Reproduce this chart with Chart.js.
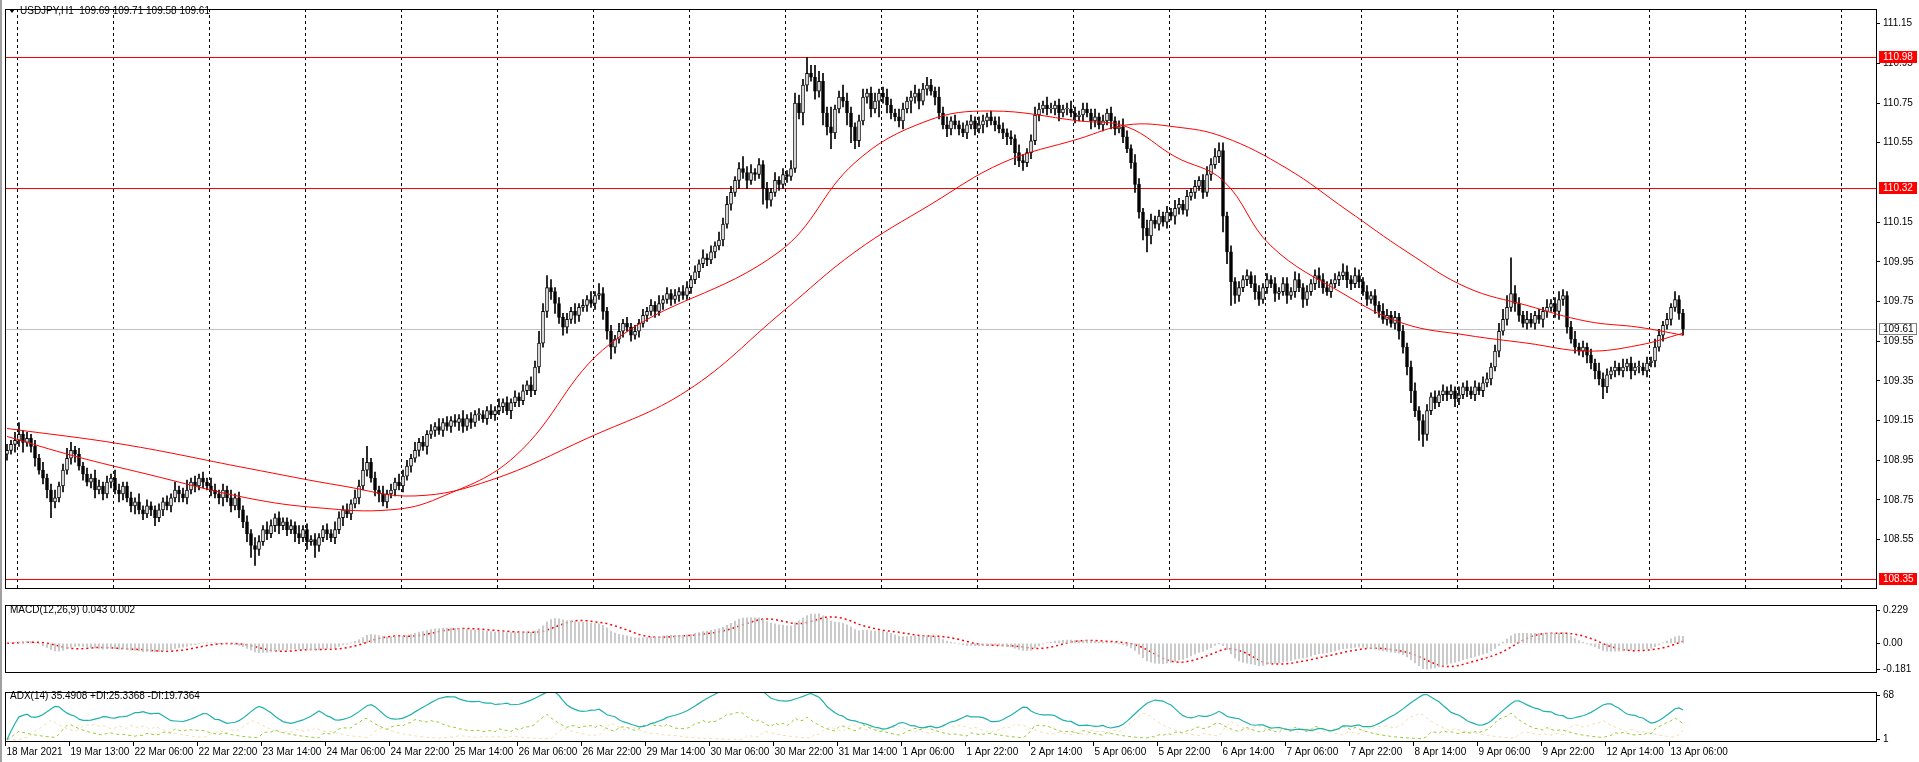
<!DOCTYPE html>
<html>
<head>
<meta charset="utf-8">
<script src="https://cdn.jsdelivr.net/npm/chart.js@4/dist/chart.umd.min.js"></script>
<style>
  html, body { margin: 0; padding: 0; background: #fff; }
  body { width: 1919px; height: 762px; position: relative; overflow: hidden; }
  canvas { position: absolute; left: 0; }
  #edge { position: absolute; left: 0; top: 0; width: 2px; height: 762px; background: #a0a0a0; }
</style>
</head>
<body>
<div id="edge"></div>
<canvas id="main" width="1919" height="598" style="top:0"></canvas>
<canvas id="macd" width="1919" height="86" style="top:596px"></canvas>
<canvas id="adx" width="1919" height="79" style="top:683px"></canvas>
<script>
// USDJPY H1 closes, one per bar (18 Mar 2021 .. 13 Apr 2021 06:00)
const closes = [
  109.00,109.03,109.05,109.08,109.04,109.06,109.02,108.96,108.90,108.86,
  108.80,108.74,108.76,108.82,108.90,108.96,109.00,108.98,108.92,108.88,
  108.84,108.86,108.80,108.82,108.78,108.84,108.86,108.80,108.78,108.82,
  108.76,108.72,108.74,108.70,108.68,108.72,108.70,108.66,108.70,108.74,
  108.72,108.76,108.80,108.78,108.76,108.80,108.84,108.82,108.86,108.84,
  108.82,108.80,108.78,108.76,108.80,108.76,108.72,108.76,108.70,108.64,
  108.58,108.52,108.50,108.54,108.60,108.58,108.62,108.66,108.62,108.64,
  108.60,108.62,108.58,108.56,108.60,108.54,108.55,108.52,108.56,108.60,
  108.58,108.56,108.60,108.66,108.70,108.68,108.73,108.76,108.82,108.90,
  108.94,108.86,108.80,108.78,108.74,108.78,108.80,108.84,108.82,108.87,
  108.92,108.96,109.00,109.04,109.02,109.08,109.10,109.12,109.10,109.14,
  109.12,109.15,109.14,109.16,109.12,109.16,109.14,109.18,109.18,109.16,
  109.20,109.18,109.20,109.22,109.24,109.20,109.24,109.27,109.25,109.30,
  109.33,109.30,109.42,109.54,109.70,109.82,109.80,109.74,109.67,109.62,
  109.66,109.70,109.68,109.72,109.73,109.76,109.74,109.78,109.79,109.70,
  109.60,109.52,109.56,109.60,109.64,109.62,109.58,109.60,109.64,109.68,
  109.70,109.73,109.70,109.74,109.76,109.79,109.76,109.78,109.80,109.78,
  109.82,109.86,109.90,109.94,109.97,109.96,110.00,110.03,110.06,110.14,
  110.24,110.30,110.36,110.42,110.40,110.36,110.40,110.39,110.44,110.32,
  110.26,110.30,110.36,110.34,110.39,110.38,110.42,110.75,110.70,110.84,
  110.90,110.88,110.81,110.86,110.70,110.63,110.60,110.72,110.78,110.76,
  110.70,110.63,110.56,110.66,110.78,110.80,110.72,110.76,110.80,110.78,
  110.74,110.70,110.68,110.66,110.72,110.76,110.78,110.80,110.76,110.82,
  110.84,110.81,110.78,110.70,110.64,110.62,110.66,110.64,110.62,110.60,
  110.64,110.66,110.62,110.64,110.66,110.68,110.66,110.64,110.62,110.60,
  110.58,110.57,110.50,110.46,110.45,110.50,110.56,110.69,110.72,110.74,
  110.72,110.72,110.74,110.70,110.72,110.72,110.70,110.68,110.69,110.72,
  110.70,110.66,110.68,110.64,110.66,110.70,110.66,110.62,110.63,110.58,
  110.52,110.45,110.34,110.20,110.12,110.08,110.16,110.14,110.18,110.15,
  110.20,110.18,110.22,110.24,110.21,110.28,110.30,110.33,110.36,110.30,
  110.39,110.44,110.48,110.51,110.18,110.00,109.85,109.78,109.82,109.86,
  109.88,109.84,109.80,109.76,109.82,109.86,109.84,109.79,109.80,109.84,
  109.78,109.80,109.86,109.82,109.76,109.80,109.84,109.88,109.86,109.82,
  109.80,109.84,109.86,109.88,109.90,109.86,109.84,109.88,109.85,109.80,
  109.76,109.78,109.73,109.70,109.66,109.68,109.64,109.67,109.60,109.52,
  109.42,109.30,109.20,109.15,109.08,109.20,109.27,109.24,109.28,109.30,
  109.28,109.30,109.26,109.28,109.32,109.30,109.28,109.32,109.30,109.34,
  109.36,109.42,109.50,109.60,109.66,109.72,109.79,109.74,109.68,109.64,
  109.66,109.64,109.68,109.66,109.70,109.72,109.74,109.70,109.76,109.78,
  109.62,109.56,109.52,109.50,109.52,109.48,109.44,109.40,109.36,109.32,
  109.38,109.40,109.42,109.40,109.42,109.44,109.40,109.42,109.42,109.40,
  109.44,109.45,109.52,109.58,109.63,109.66,109.72,109.76,109.69,109.61
];
const firstOpen = 108.98;
// upper / lower shadow length per bar, in 0.01 yen
const wickUp = [
  3,2,4,6,2,3,2,3,2,4, 2,3,4,2,3,5,4,2,3,2, 3,2,4,3,2,3,2,4,3,2, 2,3,2,4,2,3,2,2,3,2,
  3,2,4,2,3,5,2,3,2,3, 2,4,3,2,3,2,4,2,3,2, 3,2,4,3,2,4,3,2,3,2, 2,3,2,4,2,3,2,3,2,2,
  3,2,4,3,2,3,2,4,3,6, 8,2,3,2,4,2,3,2,4,3, 3,2,4,2,3,2,3,2,4,2, 3,2,3,2,4,2,3,2,3,2,
  2,3,2,4,2,3,2,3,2,3, 2,4,3,6,4,6,4,2,3,2, 3,2,4,2,3,2,4,2,5,3, 2,3,2,4,2,3,2,3,2,3,
  2,3,2,4,2,3,2,3,2,3, 3,2,3,2,4,2,3,2,4,3, 4,3,2,3,6,3,4,2,3,2, 3,2,4,2,3,2,4,5,4,3,
  8,4,6,5,4,3,10,2,3,6, 4,3,2,3,4,2,3,4,2,3, 4,3,2,4,3,2,3,4,2,3, 4,3,2,5,3,4,2,3,2,3,
  2,3,2,4,3,2,3,2,4,3, 2,3,2,4,3,2,3,4,3,2, 4,3,2,3,2,3,4,3,2,3, 3,2,4,2,3,2,3,2,3,4,
  3,2,4,3,2,4,3,2,3,2, 3,2,4,3,2,3,2,3,2,3, 4,3,4,4,4,2,3,2,3,2, 3,2,4,3,2,3,2,3,2,3,
  3,2,4,3,2,3,2,3,4,3, 3,2,3,2,4,3,2,4,3,2, 3,2,3,2,4,3,2,3,2,3, 2,3,4,2,3,3,2,3,2,3,
  2,3,2,4,2,3,2,3,2,3, 3,2,3,4,5,6,18,4,3,2, 4,3,2,3,2,4,2,3,4,3, 2,3,4,2,3,2,3,2,4,3,
  3,2,3,2,4,2,3,2,3,2, 3,2,4,3,2,3,2,4,2,2
];
const wickDn = [
  3,2,4,3,5,2,3,4,2,3, 4,8,3,2,3,2,3,4,2,3, 2,3,4,2,3,2,3,2,4,3, 2,3,4,2,3,2,3,4,2,3,
  2,3,2,4,2,3,2,3,2,3, 2,3,2,3,4,2,3,2,4,3, 4,6,8,3,2,3,2,3,4,2, 3,2,4,3,2,4,2,6,3,2,
  3,2,3,2,4,2,3,2,3,2, 3,2,3,4,2,3,2,3,2,3, 2,3,2,3,2,4,2,3,2,3, 2,3,2,4,3,2,3,2,3,2,
  3,2,3,2,3,2,4,2,3,2, 2,3,2,3,2,3,4,5,3,4, 3,2,4,3,2,3,2,3,2,4, 4,6,3,2,3,2,3,2,3,2,
  3,2,3,2,3,2,3,2,3,2, 2,3,2,3,2,3,2,3,2,3, 2,3,2,4,3,4,2,3,2,8, 4,3,2,3,2,3,2,2,3,6,
  3,2,4,3,6,4,8,3,2,3, 6,8,4,3,2,3,4,2,8,3, 4,3,2,3,4,2,6,3,4,2, 3,2,4,3,2,4,3,2,3,2,
  3,2,3,2,4,3,2,3,2,3, 4,3,6,3,4,2,3,2,3,2, 3,2,3,4,2,3,2,3,2,3, 2,4,3,2,3,2,4,3,2,3,
  2,3,4,3,6,8,4,2,3,2, 3,2,4,3,2,3,2,3,2,3, 2,3,2,3,8,6,12,4,3,2, 3,2,4,3,2,3,2,4,3,2,
  4,2,3,2,4,3,2,3,4,3, 2,3,2,3,2,4,3,2,3,2, 3,2,4,3,2,3,2,3,4,3, 4,6,3,10,6,3,2,3,2,3,
  3,2,4,3,2,3,2,3,2,3, 2,3,2,3,2,3,2,4,3,2, 3,2,3,2,4,3,2,3,4,3, 3,2,3,2,3,4,3,4,3,6,
  3,2,3,2,3,2,4,2,3,2, 3,2,3,2,3,2,3,2,3,3
];

// two red moving averages, read at bar indices
const maFastIdx = [0,17,35,60,78,96,108,127,151,193,212,230,246,268,280,292,304,316,334,349,365,380,395,408,419];
const maFast = [109.07,108.97,108.88,108.76,108.71,108.70,108.76,108.97,109.54,110.00,110.45,110.66,110.71,110.66,110.63,110.48,110.36,110.03,109.79,109.64,109.58,109.54,109.50,109.53,109.59];
const maSlowIdx = [0,29,60,84,102,121,145,170,194,212,231,249,268,280,292,304,320,335,350,365,380,395,408,419];
const maSlow = [109.11,109.03,108.91,108.82,108.77,108.85,109.06,109.30,109.70,110.00,110.24,110.45,110.57,110.64,110.63,110.58,110.42,110.21,110.00,109.82,109.73,109.65,109.62,109.58];

const levels = [110.98, 110.32, 108.35];
const lastPrice = 109.61;
const priceTicks = [111.15,110.95,110.75,110.55,110.15,109.95,109.75,109.55,109.35,109.15,108.95,108.75,108.55];
const macdTicks = [0.229, 0, -0.181];
const adxTicks = [68, 1];
const timeLabels = ['18 Mar 2021','19 Mar 13:00','22 Mar 06:00','22 Mar 22:00','23 Mar 14:00','24 Mar 06:00','24 Mar 22:00',
  '25 Mar 14:00','26 Mar 06:00','26 Mar 22:00','29 Mar 14:00','30 Mar 06:00','30 Mar 22:00','31 Mar 14:00','1 Apr 06:00',
  '1 Apr 22:00','2 Apr 14:00','5 Apr 06:00','5 Apr 22:00','6 Apr 14:00','7 Apr 06:00','7 Apr 22:00','8 Apr 14:00',
  '9 Apr 06:00','9 Apr 22:00','12 Apr 14:00','13 Apr 06:00'];

const FONT = '"Liberation Sans", Arial, sans-serif';
Chart.defaults.font.family = FONT;
Chart.defaults.font.size = 10;
Chart.defaults.color = '#000';
Chart.defaults.animation = false;

const N = closes.length;
const SLOTS = 468; // bar slots across the window, the last ones are empty space
const slotLabels = Array.from({ length: SLOTS }, (_, i) => String(i));
const opens = closes.map((c, i) => i === 0 ? firstOpen : closes[i - 1]);
const highs = closes.map((c, i) => Math.max(opens[i], c) + wickUp[i] / 100);
const lows = closes.map((c, i) => Math.min(opens[i], c) - wickDn[i] / 100);

// indicators are worked out from the bars above (MACD 12,26,9 and ADX 14, MT4 style)
function ema(arr, p) {
  const k = 2 / (p + 1); let prev = arr[0];
  return arr.map((v, i) => (prev = i === 0 ? v : prev + k * (v - prev)));
}
const e12 = ema(closes, 12), e26 = ema(closes, 26);
const macdMain = closes.map((c, i) => e12[i] - e26[i]);
const macdSignal = macdMain.map((v, i) => {
  const s = macdMain.slice(Math.max(0, i - 8), i + 1);
  return s.reduce((a, b) => a + b, 0) / s.length;
});
const pdiRaw = [0], mdiRaw = [0];
for (let i = 1; i < N; i++) {
  const up = highs[i] - highs[i - 1], dn = lows[i - 1] - lows[i];
  const pdm = up > dn && up > 0 ? up : 0, mdm = dn > up && dn > 0 ? dn : 0;
  const tr = Math.max(highs[i] - lows[i], Math.abs(highs[i] - closes[i - 1]), Math.abs(lows[i] - closes[i - 1]));
  pdiRaw.push(tr ? 100 * pdm / tr : 0); mdiRaw.push(tr ? 100 * mdm / tr : 0);
}
const pdi = ema(pdiRaw, 14), mdi = ema(mdiRaw, 14);
const adx = ema(pdi.map((p, i) => (p + mdi[i]) ? 100 * Math.abs(p - mdi[i]) / (p + mdi[i]) : 0), 14);

const xScale = () => ({ type: 'category', offset: true, display: false, grid: { display: false } });
function rightAxis(min, max, tickVals, fmt) {
  return {
    position: 'right', min, max,
    afterFit: s => { s.width = 1919 - 1877; },
    afterBuildTicks: s => { s.ticks = tickVals.map(v => ({ value: v })); },
    ticks: { callback: fmt, padding: 3, autoSkip: false, color: '#000' },
    grid: { drawOnChartArea: false, drawTicks: true, tickLength: 3, color: '#000' },
    border: { display: false }
  };
}
// pixel of the boundary just after slot j
function slotEdge(x, j) {
  const a = x.getPixelForValue(j), b = x.getPixelForValue(j + 1);
  return (a + b) / 2;
}
function frame(chart) {
  const a = chart.chartArea, ctx = chart.ctx;
  ctx.save(); ctx.strokeStyle = '#000'; ctx.lineWidth = 1;
  ctx.strokeRect(Math.round(a.left) + 0.5, Math.round(a.top) + 0.5, Math.round(a.right - a.left) - 1, Math.round(a.bottom - a.top) - 1);
  ctx.restore();
}
function label(ctx, txt, x, y) {
  ctx.save(); ctx.font = '10px ' + FONT; ctx.fillStyle = '#000'; ctx.textBaseline = 'middle';
  ctx.fillText(txt, x, y); ctx.restore();
}

const mainPlugin = {
  id: 'mainDeco',
  beforeDatasetsDraw(chart) {
    const { ctx, chartArea: a, scales: { x, y } } = chart;
    ctx.save();
    ctx.strokeStyle = '#000'; ctx.lineWidth = 1; ctx.setLineDash([3, 3]);
    for (let j = 2; j < SLOTS - 1; j += 24) {
      const px = Math.round(slotEdge(x, j)) + 0.5;
      ctx.beginPath(); ctx.moveTo(px, a.top); ctx.lineTo(px, a.bottom); ctx.stroke();
    }
    ctx.setLineDash([]);
    ctx.strokeStyle = '#c0c0c0';
    let py = Math.round(y.getPixelForValue(lastPrice)) + 0.5;
    ctx.beginPath(); ctx.moveTo(a.left, py); ctx.lineTo(a.right, py); ctx.stroke();
    ctx.strokeStyle = '#ff0000';
    levels.forEach(l => {
      py = Math.round(y.getPixelForValue(l)) + 0.5;
      ctx.beginPath(); ctx.moveTo(a.left, py); ctx.lineTo(a.right, py); ctx.stroke();
    });
    ctx.restore();
  },
  afterDraw(chart) {
    const { ctx, chartArea: a, scales: { y } } = chart;
    frame(chart);
    ctx.save();
    ctx.font = '10px ' + FONT; ctx.textBaseline = 'middle';
    const box = (v, bg, fg) => {
      const py = Math.round(y.getPixelForValue(v));
      ctx.fillStyle = bg; ctx.fillRect(a.right + 2, py - 6, 38, 12);
      if (bg === '#fff') { ctx.strokeStyle = '#808080'; ctx.strokeRect(a.right + 2.5, py - 5.5, 37, 11); }
      ctx.fillStyle = fg; ctx.fillText(v.toFixed(2), a.right + 6, py + 0.5);
    };
    levels.forEach(l => box(l, '#ff0000', '#fff'));
    box(lastPrice, '#fff', '#000');
    ctx.fillStyle = '#000';
    ctx.beginPath(); ctx.moveTo(9, 9); ctx.lineTo(15, 9); ctx.lineTo(12, 13); ctx.closePath(); ctx.fill();
    ctx.restore();
    label(ctx, 'USDJPY,H1  109.69 109.71 109.58 109.61', 20, 11);
  }
};

new Chart(document.getElementById('main'), {
  type: 'bar',
  data: {
    labels: slotLabels,
    datasets: [
      {
        data: closes.map((c, i) => [lows[i], highs[i]]),
        backgroundColor: '#000', barThickness: 1, grouped: false, order: 3
      },
      {
        data: closes.map((c, i) => [Math.min(opens[i], c), Math.max(opens[i], c)]),
        backgroundColor: closes.map((c, i) => c >= opens[i] ? '#fff' : '#000'),
        borderColor: '#000', borderWidth: 1, borderSkipped: false, minBarLength: 1,
        barThickness: 3, grouped: false, order: 2
      },
      {
        type: 'line', data: maFastIdx.map((j, k) => ({ x: String(j), y: maFast[k] })),
        borderColor: '#ff0000', borderWidth: 1, pointRadius: 0, tension: 0.4, order: 1
      },
      {
        type: 'line', data: maSlowIdx.map((j, k) => ({ x: String(j), y: maSlow[k] })),
        borderColor: '#ff0000', borderWidth: 1, pointRadius: 0, tension: 0.4, order: 1
      }
    ]
  },
  options: {
    responsive: false,
    layout: { padding: { left: 5, top: 2, bottom: 4, right: 0 } },
    plugins: { legend: { display: false }, tooltip: { enabled: false } },
    scales: {
      x: xScale(),
      y: rightAxis(108.301, 111.224, priceTicks, v => v.toFixed(2))
    }
  },
  plugins: [mainPlugin]
});

new Chart(document.getElementById('macd'), {
  type: 'bar',
  data: {
    labels: slotLabels,
    datasets: [
      { data: macdMain, backgroundColor: '#c0c0c0', barThickness: 1, grouped: false },
      {
        type: 'line', data: macdSignal,
        borderColor: '#ff0000', borderWidth: 1.5, borderDash: [2, 3], pointRadius: 0
      }
    ]
  },
  options: {
    responsive: false,
    layout: { padding: { left: 5, top: 0, bottom: 0, right: 0 } },
    plugins: { legend: { display: false }, tooltip: { enabled: false } },
    scales: {
      x: xScale(),
      y: rightAxis(-0.207, 0.268, macdTicks, v => v === 0 ? '0.00' : v.toFixed(3))
    }
  },
  plugins: [{
    id: 'macdDeco',
    afterDraw(chart) {
      frame(chart);
      label(chart.ctx, 'MACD(12,26,9) 0.043 0.002', 10, 14);
    }
  }]
});

new Chart(document.getElementById('adx'), {
  type: 'line',
  data: {
    labels: slotLabels,
    datasets: [
      { data: adx, borderColor: '#20b2aa', borderWidth: 1.2, pointRadius: 0 },
      { data: pdi, borderColor: '#9acd32', borderWidth: 1, borderDash: [3, 3], pointRadius: 0 },
      { data: mdi, borderColor: '#f5deb3', borderWidth: 1, borderDash: [3, 3], pointRadius: 0 }
    ]
  },
  options: {
    responsive: false,
    layout: { padding: { left: 5, top: 0, bottom: 20, right: 0 } },
    plugins: { legend: { display: false }, tooltip: { enabled: false } },
    scales: {
      x: xScale(),
      y: rightAxis(-3.4, 72.8, adxTicks, v => String(v))
    }
  },
  plugins: [{
    id: 'adxDeco',
    afterDraw(chart) {
      const { ctx, chartArea: a, scales: { x } } = chart;
      frame(chart);
      label(ctx, 'ADX(14) 35.4908 +DI:25.3368 -DI:19.7364', 10, 13);
      ctx.save(); ctx.strokeStyle = '#000';
      timeLabels.forEach((t, k) => {
        const px = Math.round(k === 0 ? a.left : slotEdge(x, 16 * k - 1)) + 0.5;
        ctx.beginPath(); ctx.moveTo(px, a.bottom); ctx.lineTo(px, a.bottom + 4); ctx.stroke();
        label(ctx, t, px + 1, a.bottom + 10);
      });
      ctx.restore();
    }
  }]
});
</script>
</body>
</html>
